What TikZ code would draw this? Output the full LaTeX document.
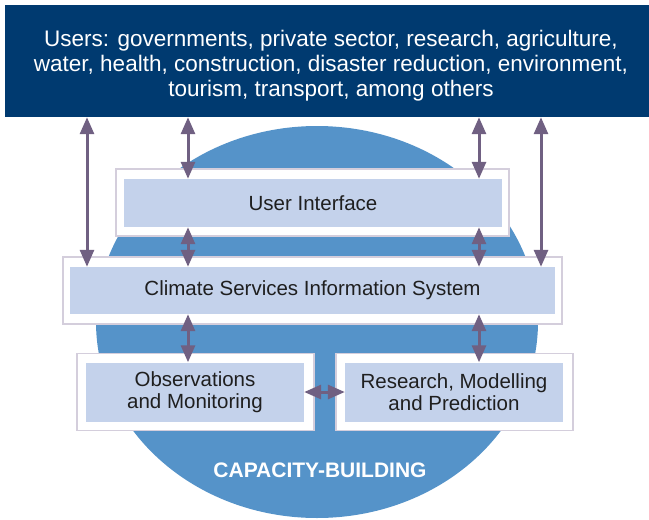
\documentclass[tikz,border=0pt]{standalone}
\usepackage{fontspec}
\setmainfont{Liberation Sans}
\usetikzlibrary{arrows.meta}
\definecolor{userblue}{RGB}{0,58,112}
\definecolor{capblue}{RGB}{85,147,201}
\definecolor{panelfill}{RGB}{196,210,235}
\definecolor{frameline}{RGB}{212,206,220}
\definecolor{linkgray}{RGB}{112,96,130}
\tikzset{
  frame/.style={draw=frameline, line width=1.5pt, fill=white, inner sep=0pt},
  panel/.style={fill=panelfill, inner sep=0pt, align=center, text=black!88,
    font=\fontsize{20.5}{22.5}\selectfont},
  link/.style={{Triangle[length=17pt,width=14pt]}-{Triangle[length=17pt,width=14pt]},
    line width=3pt, draw=linkgray}
}

\begin{document}
\begin{tikzpicture}[x=1pt,y=-1pt]
            \useasboundingbox (0,0) rectangle (649,520);
            % capacity-building disc behind everything
            \fill[capblue] (317,322) ellipse [x radius=221pt, y radius=196pt];
            \node (cb) at (320,470) [text=white, font=\fontsize{21}{24}\selectfont\bfseries]{CAPACITY-BUILDING};
            
            % users on top
            \node (users) at (327,61) [fill=userblue, minimum width=644pt, minimum height=112pt, inner sep=0pt]{};
            \node (userstext) at (331,65.5) [text=white, align=center, font=\fontsize{22.5}{25}\selectfont]{Users: governments, private sector, research, agriculture,\\ water, health, construction, disaster reduction, environment,\\ tourism, transport, among others};
            
            % frames
            \node (uiframe) at (312.5,202.5) [frame, minimum width=393pt, minimum height=67pt]{};
            \node (csisframe) at (312.5,290.5) [frame, minimum width=499pt, minimum height=67pt]{};
            \node (obsframe) at (195.5,392) [frame, minimum width=237pt, minimum height=77pt]{};
            \node (rmpframe) at (454.5,392) [frame, minimum width=237pt, minimum height=77pt]{};
            
            % panels
            \node (ui) at (313,203) [panel, minimum width=378pt, minimum height=48pt]{User Interface};
            \node (csis) at (312.5,290.5) [panel, minimum width=485pt, minimum height=47pt]{Climate Services Information System};
            \node (obs) at (195,392) [panel, minimum width=218pt, minimum height=59pt]{Observations\\and Monitoring};
            \node (rmp) at (454,392) [panel, minimum width=218pt, minimum height=59pt]{Research, Modelling\\and Prediction};
            
            % columns of the links
            \coordinate (xa) at (87,0);
            \coordinate (xb) at (188,0);
            \coordinate (xc) at (479,0);
            \coordinate (xd) at (541,0);
            
            % links
            \draw[link] (users.south -| xa) -- (csis.north -| xa);
            \draw[link] (users.south -| xb) -- (ui.north -| xb);
            \draw[link] (users.south -| xc) -- (ui.north -| xc);
            \draw[link] (users.south -| xd) -- (csis.north -| xd);
            \draw[link] (ui.south -| xb) -- (csis.north -| xb);
            \draw[link] (ui.south -| xc) -- (csis.north -| xc);
            \draw[link] (csis.south -| xb) -- (obs.north -| xb);
            \draw[link] (csis.south -| xc) -- (rmp.north -| xc);
            \draw[link] (obs.east) -- (rmp.west);
\end{tikzpicture}
\end{document}
